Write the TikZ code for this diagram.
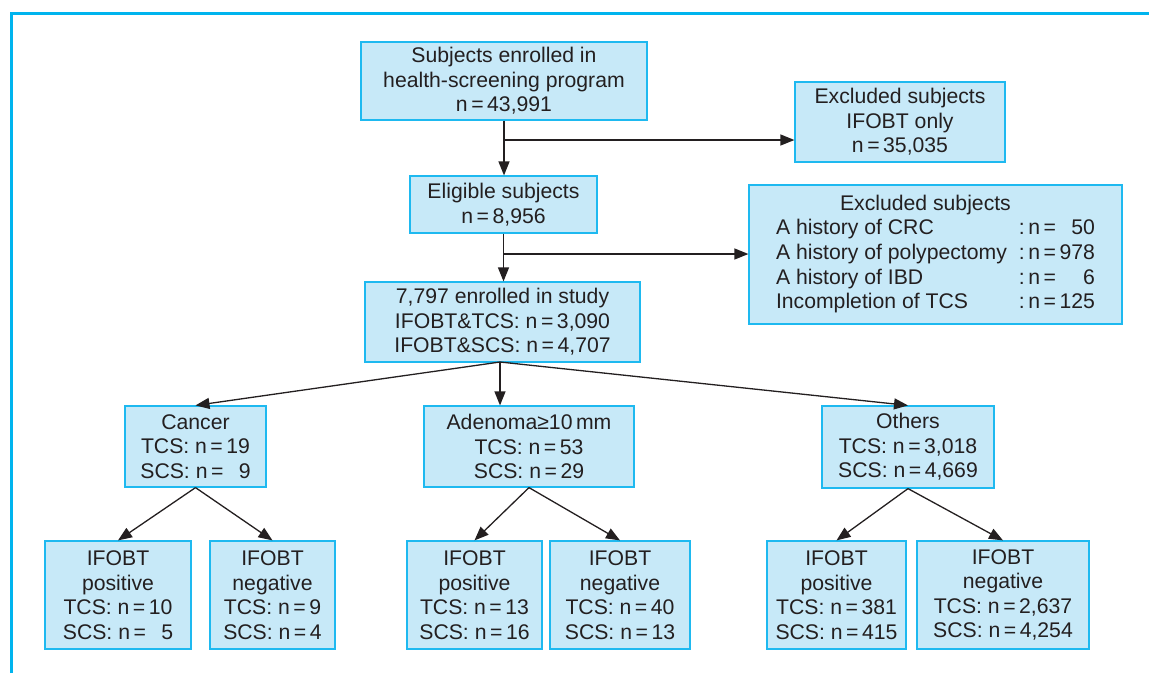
\documentclass[tikz,border=0pt]{standalone}
\usepackage{fontspec}
\setmainfont{Liberation Sans}
\usetikzlibrary{arrows.meta}
\definecolor{framec}{RGB}{0,180,238}
\definecolor{boxfill}{RGB}{199,233,248}
\definecolor{boxline}{RGB}{30,185,240}
\definecolor{ink}{RGB}{35,31,32}
\begin{document}
\begin{tikzpicture}[x=1pt,y=-1pt,
 box/.style={draw=boxline, line width=1.2pt, fill=boxfill, align=center, inner sep=0pt, text=ink, font=\fontsize{21.2}{24.6}\selectfont},
 sz/.style 2 args={minimum width=#1pt, minimum height=#2pt},
 arr/.style={draw=ink, line width=1.3pt, -{Triangle[length=14pt,width=11pt]}}]
\useasboundingbox (0,0) rectangle (1149,673);
\draw[framec, line width=3pt] (11,673) -- (11,13) -- (1149,13);

\node[box, sz={286}{78}] (b1) at (504,81) {Subjects enrolled in\\health-screening program\\n\,=\,43,991};
\node[box, sz={210}{80}] (ex1) at (900,122) {Excluded subjects\\IFOBT only\\n\,=\,35,035};
\node[box, sz={187}{57}] (b2) at (503.5,204.5) {Eligible subjects\\n\,=\,8,956};
\node[box, sz={373}{139}] (ex2) at (935.5,254.5) {\begin{tabular}{@{}l@{\hspace{12pt}}l@{}r@{}}
\multicolumn{3}{@{}l@{}}{\hspace{64pt}Excluded subjects}\\
A history of CRC & :\,n\,=\, & 50\\
A history of polypectomy & :\,n\,=\, & 978\\
A history of IBD & :\,n\,=\, & 6\\
Incompletion of TCS & :\,n\,=\, & 125
\end{tabular}};
\node[box, sz={275}{80}] (b3) at (502.5,322) {7,797 enrolled in study\\IFOBT\&TCS: n\,=\,3,090\\IFOBT\&SCS: n\,=\,4,707};

\node[box, sz={141}{81}] (ca) at (195.5,446.5) {Cancer\\TCS: n\,=\,19\\SCS: n\,=\,\phantom{1}9};
\node[box, sz={210}{81}] (ad) at (529,446.5) {Adenoma≥10\,mm\\TCS: n\,=\,53\\SCS: n\,=\,29};
\node[box, sz={172}{82}] (ot) at (908,447) {Others\\TCS: n\,=\,3,018\\SCS: n\,=\,4,669};

\node[box, sz={146}{108}] (p1) at (118,595) {IFOBT\\positive\\TCS: n\,=\,10\\SCS: n\,=\,\phantom{1}5};
\node[box, sz={125}{108}] (n1) at (272.5,595) {IFOBT\\negative\\TCS: n\,=\,9\\SCS: n\,=\,4};
\node[box, sz={135}{108}] (p2) at (474.5,595) {IFOBT\\positive\\TCS: n\,=\,13\\SCS: n\,=\,16};
\node[box, sz={140}{108}] (n2) at (620,595) {IFOBT\\negative\\TCS: n\,=\,40\\SCS: n\,=\,13};
\node[box, sz={139}{108}] (p3) at (836.5,595) {IFOBT\\positive\\TCS: n\,=\,381\\SCS: n\,=\,415};
\node[box, sz={172}{108}] (n3) at (1003,595) {IFOBT\\negative\\TCS: n\,=\,2,637\\SCS: n\,=\,4,254};

\coordinate (j1) at (503.5,140);
\coordinate (j2) at (503.5,254);
\draw[arr] (b1.south) -- (b1.south |- b2.north);
\draw[arr] (j1) -- (j1 -| ex1.west);
\draw[arr] (b2.south) -- (b2.south |- b3.north);
\draw[arr] (j2) -- (j2 -| ex2.west);

\coordinate (s3) at (500,362);
\draw[arr] (s3) -- (ca.north);
\draw[arr] (s3) -- (s3 |- ad.north);
\draw[arr] (s3) -- (ot.north);

\draw[arr] (ca.south) -- (p1.north);
\draw[arr] (ca.south) -- (n1.north);
\draw[arr] (ad.south) -- (p2.north);
\draw[arr] (ad.south) -- (n2.north);
\draw[arr] (ot.south) -- (p3.north);
\draw[arr] (ot.south) -- (n3.north);
\end{tikzpicture}
\end{document}
